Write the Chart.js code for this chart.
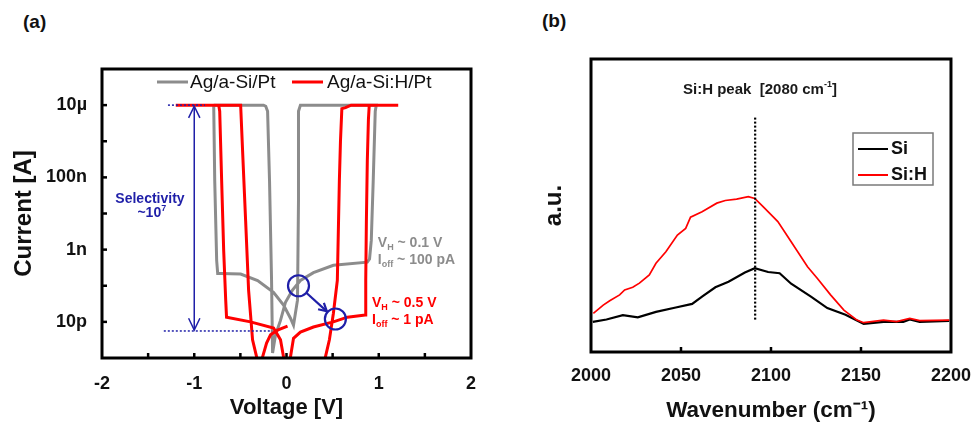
<!DOCTYPE html>
<html><head><meta charset="utf-8">
<script src="https://cdn.jsdelivr.net/npm/chart.js@4.4.1/dist/chart.umd.min.js"></script>
<style>
html,body{margin:0;padding:0;background:#fff;}
body{width:976px;height:426px;position:relative;overflow:hidden;font-family:'Liberation Sans',Arial,sans-serif;}
#ca{position:absolute;left:0;top:0;}
#cb{position:absolute;left:490px;top:0;}
.lbl{position:absolute;font-weight:bold;font-size:19px;line-height:19px;color:#111;}
</style></head><body>
<div class="lbl" style="left:23px;top:12px">(a)</div>
<div class="lbl" style="left:542px;top:11px">(b)</div>
<canvas id="ca" width="490" height="426"></canvas>
<canvas id="cb" width="486" height="426"></canvas>
<script>
// ---------- Panel (a) data: I-V sweeps ----------
const grayV = [-0.789, -0.249, -0.225, -0.205, -0.184, -0.162, -0.151, -0.119, -0.065, -0.011, 0.065, 0.151, 0.292, 0.508, 0.876, 0.90, 0.919, 0.94, 0.962, 0.973, 0.151, 0.13, 0.13, 0.119, 0.076, 0.043, -0.032, -0.141, -0.313, -0.497, -0.714, -0.746, -0.757, -0.778, -0.789];
const grayI = [1e-5, 1e-5, 9.3e-6, 6.8e-6, 8.1e-8, 1.4e-10, 1.38e-12, 4.4e-12, 1.1e-11, 3.5e-11, 7.6e-11, 1.4e-10, 2.3e-10, 3.7e-10, 4.5e-10, 5.5e-10, 1.8e-9, 8.1e-8, 6.8e-6, 1e-5, 1e-5, 6.8e-6, 2.3e-8, 4.0e-11, 8.1e-12, 1.26e-11, 2.9e-11, 6.6e-11, 1.4e-10, 2.1e-10, 2.2e-10, 2.2e-10, 5e-10, 8.1e-8, 1e-5];
const redV = [0.0, -0.032, -0.065, -0.119, -0.14, -0.39, -0.65, -0.659, -0.681, -0.703, -0.724, -0.735, -1.2, -0.497, -0.476, -0.443, -0.411, -0.368, -0.324, -0.292, -0.259, -0.216, -0.173, -0.097, 0.011, null, 0.022, 0.043, 0.076, 0.151, 0.292, 0.508, 0.66, 0.854, 0.859, 0.866, 0.876, 0.888, 0.897, 1.211, 0.70, 0.64, 0.60, 0.585, 0.573, 0.551, 0.508, 0.465, 0.422, 0.39];
const redI = [5e-13, 1.07e-12, 3.2e-12, 5.5e-12, 6.8e-12, 1.0e-11, 1.35e-11, 4.0e-11, 9.5e-10, 8.1e-8, 6.8e-6, 1e-5, 1e-5, 1e-5, 5.4e-7, 6.3e-9, 7.6e-11, 3.2e-12, 1.07e-12, 5e-13, 1.07e-12, 2.6e-12, 4.4e-12, 5.9e-12, 7.6e-12, null, 5e-13, 1.07e-12, 3.5e-12, 5.2e-12, 7.2e-12, 1.0e-11, 1.35e-11, 1.55e-11, 1.4e-10, 6.3e-9, 2.9e-7, 4e-6, 1e-5, 1e-5, 1e-5, 8.5e-6, 8e-6, 1e-6, 8e-8, 1.4e-10, 1.7e-11, 3.2e-12, 1.07e-12, 5e-13];
const seriesNamesA = ['Ag/a-Si/Pt', 'Ag/a-Si:H/Pt'];
const yTickValuesA = [1e-5, 1e-7, 1e-9, 1e-11];
const yTickLabelsA = ['10µ', '100n', '1n', '10p'];
const yDecadesA = [1e-11, 1e-10, 1e-9, 1e-8, 1e-7, 1e-6, 1e-5];
const xTickMarksA = [-1.5, -1, -0.5, 0, 0.5, 1, 1.5];
// annotation anchors (data space)
const selectTop = 1e-5, selectBottom = 5.6e-12, selectV = -1.0;
const circleV = [0.13, 0.53], circleI = [1e-10, 1.2e-11];

// ---------- Panel (b) data: FTIR ----------
const siX = [2001, 2008.6, 2017.7, 2026, 2036.1, 2047.1, 2056.2, 2061.7, 2069.1, 2076.4, 2085.5, 2091, 2098.4, 2104.8, 2111.2, 2122.2, 2131.3, 2141.4, 2151.5, 2162.5, 2173.5, 2177.1, 2182.6, 2199];
const siY = [0.103, 0.111, 0.126, 0.118, 0.137, 0.152, 0.164, 0.189, 0.221, 0.240, 0.271, 0.286, 0.273, 0.269, 0.233, 0.189, 0.150, 0.127, 0.096, 0.103, 0.103, 0.111, 0.103, 0.106];
const sihX = [2001.3, 2006.8, 2010.4, 2015.9, 2018.7, 2023.2, 2026.9, 2032.4, 2036.1, 2041.6, 2048.0, 2052.6, 2055.3, 2061.7, 2069.9, 2074.6, 2080.9, 2087.4, 2091.0, 2095.6, 2101.1, 2103.8, 2111.2, 2120.3, 2125.8, 2133.1, 2140.5, 2147.8, 2151.5, 2162.5, 2169.8, 2177.1, 2182.6, 2199.1];
const sihY = [0.132, 0.160, 0.175, 0.195, 0.212, 0.221, 0.235, 0.263, 0.303, 0.342, 0.399, 0.422, 0.460, 0.479, 0.508, 0.517, 0.522, 0.530, 0.524, 0.496, 0.462, 0.445, 0.376, 0.291, 0.251, 0.195, 0.143, 0.109, 0.100, 0.109, 0.104, 0.115, 0.107, 0.109];
const seriesNamesB = ['Si', 'Si:H'];
const xTickMarksB = [2050, 2100, 2150];
const peakX = 2091.2, peakY = [0.106, 0.80];

const FF = "'Liberation Sans', Arial, Helvetica, sans-serif";
Chart.defaults.font.family = FF;
Chart.defaults.color = '#111';
const GRAY = '#8c8c8c', RED = '#ff0000', BLUE = '#1f1fa8';

const pts = (xs, ys) => xs.map((x, i) => ({x: x, y: ys[i]}));

function rich(ctx, parts, x, y, align, color) {
  let w = 0;
  parts.forEach(p => { ctx.font = 'bold ' + p[1] + 'px ' + FF; w += ctx.measureText(p[0]).width; });
  let cx = align === 'center' ? x - w / 2 : x;
  ctx.fillStyle = color; ctx.textBaseline = 'middle'; ctx.textAlign = 'left';
  parts.forEach(p => {
    ctx.font = 'bold ' + p[1] + 'px ' + FF;
    ctx.fillText(p[0], cx, y + (p[2] || 0));
    cx += ctx.measureText(p[0]).width;
  });
}
function seg(ctx, x1, y1, x2, y2) { ctx.beginPath(); ctx.moveTo(x1, y1); ctx.lineTo(x2, y2); ctx.stroke(); }
function arrowHead(ctx, x, y, ang, len, spread) {
  ctx.beginPath();
  ctx.moveTo(x - len * Math.cos(ang - spread), y - len * Math.sin(ang - spread));
  ctx.lineTo(x, y);
  ctx.lineTo(x - len * Math.cos(ang + spread), y - len * Math.sin(ang + spread));
  ctx.stroke();
}

const plugA = {
  id: 'plugA',
  afterDatasetsDraw(chart) {
    const {ctx, chartArea: ca, scales: {x, y}} = chart;
    ctx.save();
    ctx.lineCap = 'butt';
    // inward ticks
    ctx.strokeStyle = '#000'; ctx.lineWidth = 2.5;
    xTickMarksA.forEach(v => { const p = x.getPixelForValue(v); seg(ctx, p, ca.bottom, p, ca.bottom - 5); });
    yDecadesA.forEach(v => { const p = y.getPixelForValue(v); seg(ctx, ca.left, p, ca.left + 5, p); });
    // frame
    ctx.lineWidth = 3;
    ctx.strokeRect(ca.left, ca.top, ca.right - ca.left, ca.bottom - ca.top);
    // legend
    const ly = ca.top + 13;
    ctx.lineWidth = 3;
    ctx.strokeStyle = GRAY; seg(ctx, ca.left + 55, ly, ca.left + 86, ly);
    ctx.strokeStyle = RED; seg(ctx, ca.left + 190, ly, ca.left + 221, ly);
    ctx.font = '19px ' + FF; ctx.fillStyle = '#111'; ctx.textBaseline = 'middle'; ctx.textAlign = 'left';
    ctx.fillText(seriesNamesA[0], ca.left + 88, ly + 1);
    ctx.fillText(seriesNamesA[1], ca.left + 225, ly + 1);
    // selectivity dotted guides
    ctx.strokeStyle = BLUE; ctx.lineWidth = 1.5; ctx.setLineDash([2, 2]);
    const yt = y.getPixelForValue(selectTop), yb = y.getPixelForValue(selectBottom);
    seg(ctx, x.getPixelForValue(-1.285), yt, x.getPixelForValue(-0.883), yt);
    seg(ctx, x.getPixelForValue(-1.33), yb, x.getPixelForValue(-0.157), yb);
    ctx.setLineDash([]);
    // double arrow
    const ax = x.getPixelForValue(selectV);
    ctx.lineWidth = 1.5;
    seg(ctx, ax, yt + 1, ax, yb - 1);
    arrowHead(ctx, ax, yt + 1, -Math.PI / 2, 13, 0.45);
    arrowHead(ctx, ax, yb - 1, Math.PI / 2, 13, 0.45);
    // circles and arrow
    const c = circleV.map((v, i) => [x.getPixelForValue(v), y.getPixelForValue(circleI[i])]);
    const r = 10.5;
    ctx.lineWidth = 2.2;
    c.forEach(p => { ctx.beginPath(); ctx.arc(p[0], p[1], r, 0, Math.PI * 2); ctx.stroke(); });
    const dx = c[1][0] - c[0][0], dy = c[1][1] - c[0][1], d = Math.hypot(dx, dy);
    const ux = dx / d, uy = dy / d;
    seg(ctx, c[0][0] + ux * r, c[0][1] + uy * r, c[1][0] - ux * (r + 1), c[1][1] - uy * (r + 1));
    arrowHead(ctx, c[1][0] - ux * (r + 1), c[1][1] - uy * (r + 1), Math.atan2(dy, dx), 9, 0.5);
    // texts
    rich(ctx, [['Selectivity', 14]], x.getPixelForValue(-1.48), y.getPixelForValue(2.5e-8), 'center', BLUE);
    rich(ctx, [['~10', 14], ['7', 9, -5]], x.getPixelForValue(-1.46), y.getPixelForValue(1.0e-8), 'center', BLUE);
    rich(ctx, [['V', 14], ['H', 9, 4], [' ~ 0.1 V', 14]], x.getPixelForValue(0.99), y.getPixelForValue(1.5e-9), 'left', GRAY);
    rich(ctx, [['I', 14], ['off', 9, 4], [' ~ 100 pA', 14]], x.getPixelForValue(0.99), y.getPixelForValue(5.1e-10), 'left', GRAY);
    rich(ctx, [['V', 14], ['H', 9, 4], [' ~ 0.5 V', 14]], x.getPixelForValue(0.927), y.getPixelForValue(3.3e-11), 'left', RED);
    rich(ctx, [['I', 14], ['off', 9, 4], [' ~ 1 pA', 14]], x.getPixelForValue(0.927), y.getPixelForValue(1.1e-11), 'left', RED);
    ctx.restore();
  }
};

new Chart(document.getElementById('ca'), {
  type: 'line',
  data: {
    datasets: [
      {label: seriesNamesA[0], data: pts(grayV, grayI), borderColor: GRAY, borderWidth: 3, pointRadius: 0, tension: 0, order: 2},
      {label: seriesNamesA[1], data: pts(redV, redI), borderColor: RED, borderWidth: 3, pointRadius: 0, tension: 0, order: 1}
    ]
  },
  options: {
    responsive: false, animation: false, events: [],
    layout: {padding: {left: 0, right: 19, top: 69, bottom: 0}, autoPadding: false},
    plugins: {legend: {display: false}, tooltip: {enabled: false}},
    scales: {
      x: {
        type: 'linear', min: -2, max: 2,
        grid: {display: false}, border: {display: false},
        ticks: {stepSize: 1, padding: 7, font: {size: 18, weight: 'bold'}, color: '#111', callback: v => String(v)},
        title: {display: true, text: 'Voltage [V]', font: {size: 22, weight: 'bold'}, color: '#111', padding: {top: 0, bottom: 5}},
        afterFit: s => { s.height = 68; }
      },
      y: {
        type: 'logarithmic', min: 1e-12, max: 1e-4,
        grid: {display: false}, border: {display: false},
        afterBuildTicks: s => { s.ticks = yTickValuesA.map(v => ({value: v})); },
        ticks: {padding: 7, font: {size: 18, weight: 'bold'}, color: '#111',
          callback: v => { const i = yTickValuesA.findIndex(t => Math.abs(Math.log10(t) - Math.log10(v)) < 1e-6); return i >= 0 ? yTickLabelsA[i] : ''; }},
        title: {display: true, text: 'Current [A]', font: {size: 24, weight: 'bold'}, color: '#111', padding: {top: 10, bottom: 0}},
        afterFit: s => { s.width = 102; }
      }
    }
  },
  plugins: [plugA]
});

const plugB = {
  id: 'plugB',
  afterDatasetsDraw(chart) {
    const {ctx, chartArea: ca, scales: {x, y}} = chart;
    ctx.save();
    // peak dotted line
    ctx.strokeStyle = '#000'; ctx.lineWidth = 2.2; ctx.setLineDash([2, 2]);
    const px = x.getPixelForValue(peakX);
    seg(ctx, px, y.getPixelForValue(peakY[1]), px, y.getPixelForValue(peakY[0]));
    ctx.setLineDash([]);
    // ticks
    ctx.lineWidth = 2.5;
    xTickMarksB.forEach(v => { const p = x.getPixelForValue(v); seg(ctx, p, ca.bottom, p, ca.bottom - 5); });
    // frame
    ctx.lineWidth = 3;
    ctx.strokeRect(ca.left, ca.top, ca.right - ca.left, ca.bottom - ca.top);
    // annotation title
    rich(ctx, [['Si:H peak  [2080 cm', 15], ['-1', 9, -5], [']', 15]], (ca.left + ca.right) / 2 - 11, ca.top + 31, 'center', '#1a1a1a');
    // legend box
    const bx = ca.left + 262, by = ca.top + 74;
    ctx.strokeStyle = '#7a7a7a'; ctx.lineWidth = 1.5;
    ctx.strokeRect(bx, by, 80, 52);
    ctx.lineWidth = 2;
    ctx.strokeStyle = '#000'; seg(ctx, bx + 5, by + 16, bx + 35, by + 16);
    ctx.strokeStyle = RED; seg(ctx, bx + 5, by + 42, bx + 35, by + 42);
    rich(ctx, [[seriesNamesB[0], 18]], bx + 38, by + 16, 'left', '#111');
    rich(ctx, [[seriesNamesB[1], 18]], bx + 38, by + 42, 'left', '#111');
    ctx.restore();
  }
};

new Chart(document.getElementById('cb'), {
  type: 'line',
  data: {
    datasets: [
      {label: seriesNamesB[0], data: pts(siX, siY), borderColor: '#000', borderWidth: 2.2, pointRadius: 0, tension: 0, order: 2},
      {label: seriesNamesB[1], data: pts(sihX, sihY), borderColor: RED, borderWidth: 1.7, pointRadius: 0, tension: 0, order: 1}
    ]
  },
  options: {
    responsive: false, animation: false, events: [],
    layout: {padding: {left: 0, right: 21, top: 59, bottom: 0}, autoPadding: false},
    plugins: {legend: {display: false}, tooltip: {enabled: false}},
    scales: {
      x: {
        type: 'linear', min: 2000, max: 2200,
        grid: {display: false}, border: {display: false},
        ticks: {stepSize: 50, padding: 5, font: {size: 18, weight: 'bold'}, color: '#111', callback: v => String(v)},
        title: {display: true, text: 'Wavenumber (cm⁻¹)', font: {size: 22.5, weight: 'bold'}, color: '#111', padding: {top: 0, bottom: 1.5}},
        afterFit: s => { s.height = 74; }
      },
      y: {
        type: 'linear', min: 0, max: 1,
        grid: {display: false}, border: {display: false},
        ticks: {display: false},
        title: {display: true, text: 'a.u.', font: {size: 24, weight: 'bold'}, color: '#111', padding: {top: 50, bottom: 0}},
        afterFit: s => { s.width = 101; }
      }
    }
  },
  plugins: [plugB]
});
</script>
</body></html>
